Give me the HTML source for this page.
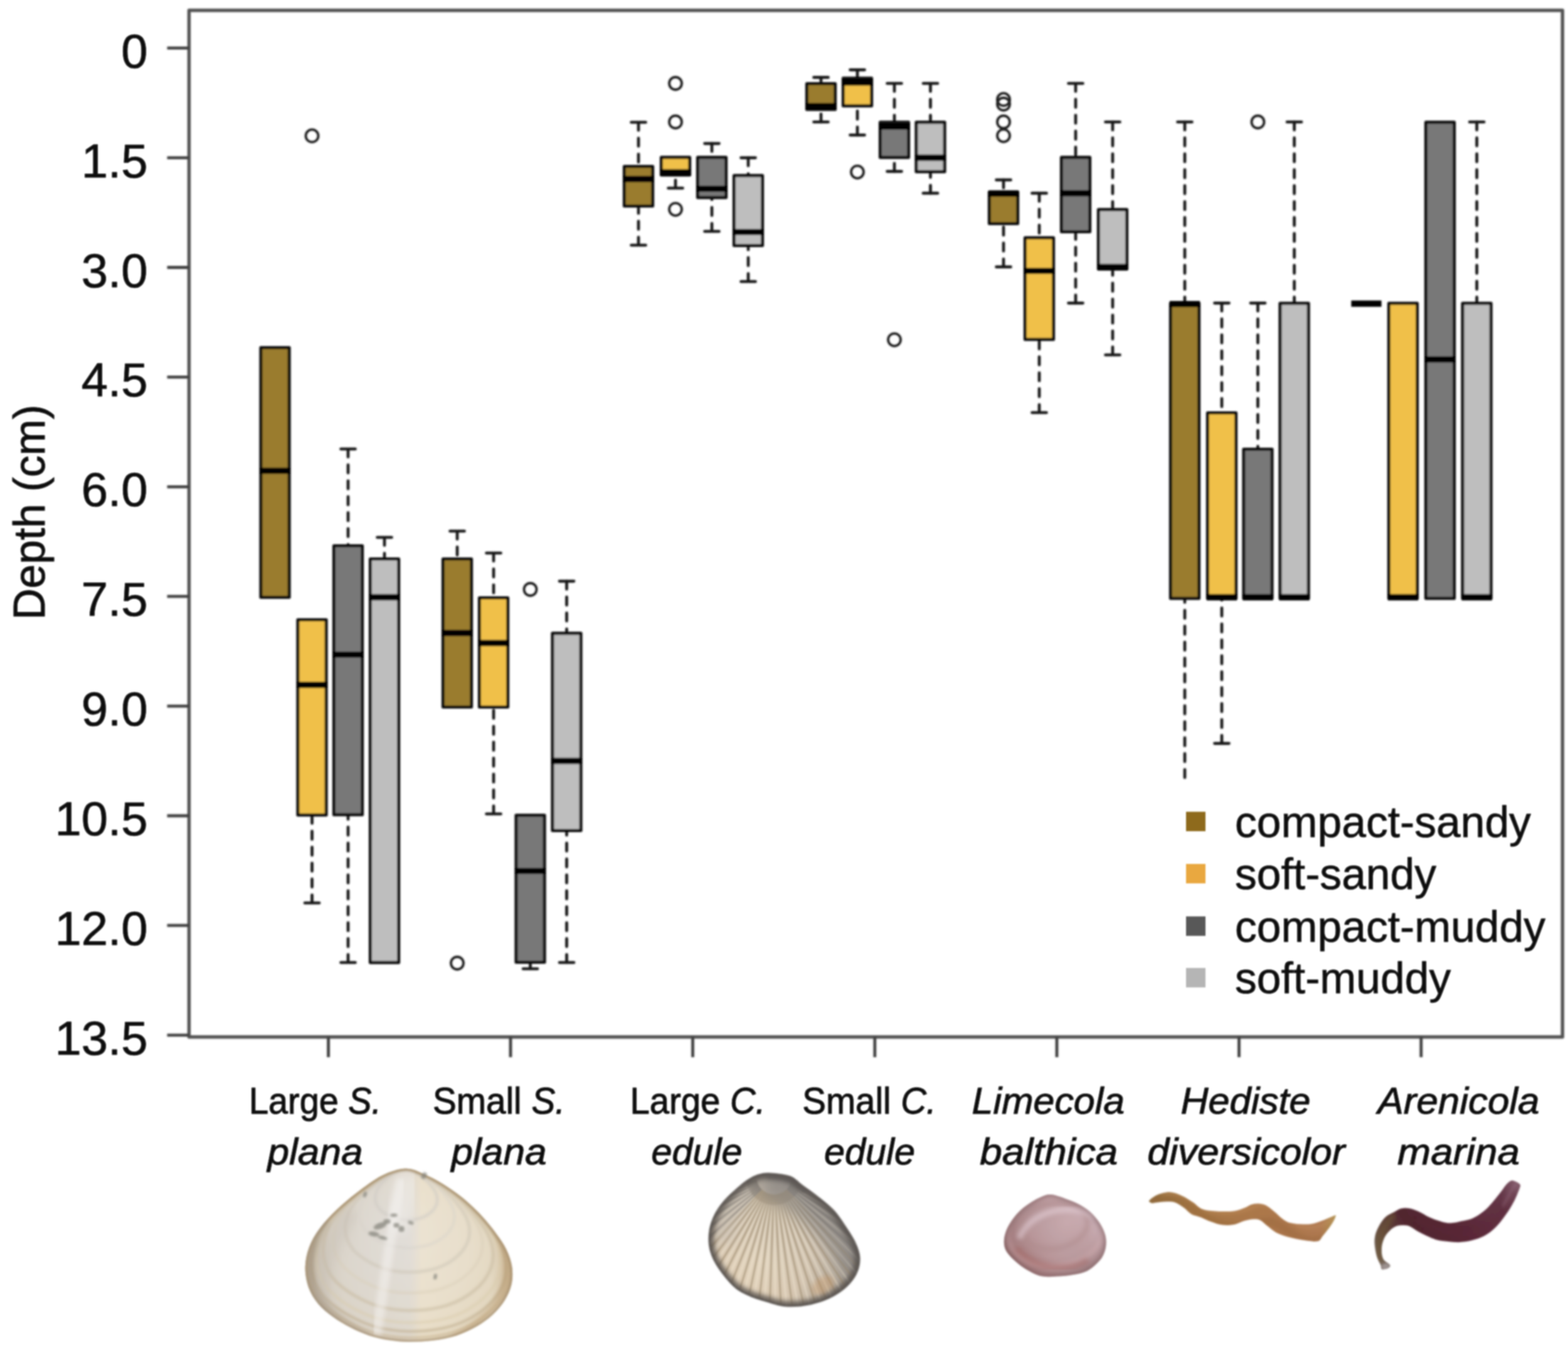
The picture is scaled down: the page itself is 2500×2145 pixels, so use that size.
<!DOCTYPE html>
<html lang="en">
<head>
<meta charset="utf-8">
<title>Burrowing depth by sediment type</title>
<style>
html,body{margin:0;padding:0;background:#fff;}
body{width:2500px;height:2145px;overflow:hidden;}
svg{display:block;}
text{font-family:"Liberation Sans",sans-serif;fill:#080808;}
.yt{font-size:76px;text-anchor:end;stroke:#080808;stroke-width:.7px;}
.yl{font-size:69.5px;stroke:#080808;stroke-width:.8px;}
.xl{font-size:59.5px;text-anchor:middle;stroke:#080808;stroke-width:.9px;}
.it{font-style:italic;}
.lg{font-size:69.6px;stroke:#080808;stroke-width:.6px;}
.bx{stroke:#0c0c0c;stroke-width:5;stroke-linejoin:round;}
.med{stroke:#000;stroke-width:10;stroke-linecap:butt;}
.wh{stroke:#141414;stroke-width:4.7;stroke-dasharray:12.7 12.7;stroke-linecap:round;}
.cap{stroke:#141414;stroke-width:4.7;stroke-linecap:round;}
.ol{fill:none;stroke:#1a1a1a;stroke-width:3.8;}
</style>
</head>
<body>
<svg width="2500" height="2145" viewBox="0 0 2500 2145">
<defs><filter id="blur" x="0" y="0" width="100%" height="100%" filterUnits="userSpaceOnUse"><feGaussianBlur stdDeviation="1.5"/></filter>
<filter id="blurT" x="0" y="0" width="2500" height="2145" filterUnits="userSpaceOnUse"><feGaussianBlur stdDeviation="1.1"/></filter></defs>
<rect width="2500" height="2145" fill="#fff"/>
<defs>
<filter id="soft" x="-5%" y="-5%" width="110%" height="110%"><feGaussianBlur stdDeviation="1.6"/></filter>
<filter id="thin" x="-5%" y="-5%" width="110%" height="110%"><feMorphology operator="erode" radius="2.4"/><feGaussianBlur stdDeviation="1.7"/></filter>
<filter id="soft3" x="-10%" y="-10%" width="120%" height="120%"><feGaussianBlur stdDeviation="3.5"/></filter>
<filter id="soft8" x="-20%" y="-20%" width="140%" height="140%"><feGaussianBlur stdDeviation="9"/></filter>
<radialGradient id="gPlana" gradientUnits="userSpaceOnUse" cx="650" cy="2010" r="185" fx="640" fy="1960">
 <stop offset="0" stop-color="#e6e2dc"/><stop offset=".55" stop-color="#e4dccd"/><stop offset=".86" stop-color="#dccfb8"/><stop offset="1" stop-color="#b9a585"/>
</radialGradient>
<linearGradient id="gPlanaLR" gradientUnits="userSpaceOnUse" x1="490" y1="0" x2="815" y2="0">
 <stop offset="0" stop-color="#b9ab98" stop-opacity=".75"/><stop offset=".12" stop-color="#d4cfc8" stop-opacity=".6"/><stop offset=".5" stop-color="#dcd9d6" stop-opacity=".45"/><stop offset=".56" stop-color="#efe4cc" stop-opacity=".55"/><stop offset=".9" stop-color="#eadfc6" stop-opacity=".4"/><stop offset="1" stop-color="#c2a883" stop-opacity=".7"/>
</linearGradient>
<radialGradient id="gCock" gradientUnits="userSpaceOnUse" cx="1225" cy="2000" r="140" fx="1215" fy="2010">
 <stop offset="0" stop-color="#e8d9c1"/><stop offset=".5" stop-color="#dccbb4"/><stop offset=".8" stop-color="#bfb2a1"/><stop offset="1" stop-color="#837b74"/>
</radialGradient>
<linearGradient id="gCockTR" gradientUnits="userSpaceOnUse" x1="1200" y1="2060" x2="1330" y2="1900">
 <stop offset="0" stop-color="#9a9896" stop-opacity="0"/><stop offset=".55" stop-color="#a9a6a3" stop-opacity=".25"/><stop offset="1" stop-color="#77746f" stop-opacity=".85"/>
</linearGradient>
<radialGradient id="gLime" gradientUnits="userSpaceOnUse" cx="1690" cy="1965" r="95" fx="1700" fy="1950">
 <stop offset="0" stop-color="#c6a9ad"/><stop offset=".55" stop-color="#b8999d"/><stop offset=".85" stop-color="#a08286"/><stop offset="1" stop-color="#7b6366"/>
</radialGradient>
<linearGradient id="gLimeD" gradientUnits="userSpaceOnUse" x1="1620" y1="2030" x2="1750" y2="1910">
 <stop offset="0" stop-color="#9c6462" stop-opacity=".6"/><stop offset=".5" stop-color="#c49a9a" stop-opacity="0"/><stop offset="1" stop-color="#e2d3e0" stop-opacity=".8"/>
</linearGradient>
<linearGradient id="gHed" gradientUnits="userSpaceOnUse" x1="1830" y1="0" x2="2135" y2="0">
 <stop offset="0" stop-color="#94703f"/><stop offset=".25" stop-color="#a97a48"/><stop offset=".6" stop-color="#ad784b"/><stop offset=".9" stop-color="#b07a52"/><stop offset="1" stop-color="#b39a52"/>
</linearGradient>
<linearGradient id="gAre" gradientUnits="userSpaceOnUse" x1="2190" y1="2020" x2="2425" y2="1885">
 <stop offset="0" stop-color="#8f847f"/><stop offset=".1" stop-color="#6c5a4c"/><stop offset=".3" stop-color="#51262f"/><stop offset=".6" stop-color="#5b2a39"/><stop offset=".85" stop-color="#643647"/><stop offset="1" stop-color="#86606f"/>
</linearGradient>
</defs>
<g id="shell-plana" filter="url(#soft)">
<clipPath id="cpPlana"><path d="M646 1863.8C657 1863.3 664.6 1867.7 674.7 1871.9C684.7 1876 695.9 1881.9 706.5 1888.4C717.1 1895 728.3 1902.9 738.4 1911.1C748.5 1919.4 758.4 1928.9 767 1938.1C775.7 1947.3 783.7 1957.2 790.4 1966.4C797.1 1975.5 803.1 1983.9 807.4 1992.9C811.7 2001.9 815 2011.3 816.3 2020.5C817.6 2029.7 817.4 2039.3 815.5 2048.1C813.5 2057 809.8 2065.5 804.8 2073.6C799.9 2081.7 793.3 2089.5 785.7 2096.5C778.2 2103.5 769.3 2110.1 759.6 2115.6C749.9 2121.2 739.2 2126.2 727.7 2129.9C716.2 2133.6 703.1 2136.1 690.6 2137.7C678 2139.4 664 2139.9 652.4 2139.9C640.7 2139.8 631.1 2139 620.5 2137.3C609.9 2135.6 598.9 2133.2 588.7 2129.9C578.4 2126.5 568.5 2122.1 558.9 2117.1C549.3 2112.2 539.5 2106.5 530.9 2100.1C522.3 2093.8 513.6 2086.9 507.1 2078.9C500.6 2070.9 495.2 2062.1 491.8 2052.4C488.4 2042.6 486.5 2031.1 486.7 2020.5C486.9 2009.9 489.3 1998.8 493.1 1988.7C496.9 1978.5 502.4 1969.2 509.7 1959.3C516.9 1949.5 526.7 1939.2 536.6 1929.6C546.5 1920.1 557.1 1911.1 569.1 1902C581.1 1892.9 596 1881.4 608.8 1875C621.6 1868.7 635 1864.3 646 1863.8Z"/></clipPath>
<path d="M646 1863.8C657 1863.3 664.6 1867.7 674.7 1871.9C684.7 1876 695.9 1881.9 706.5 1888.4C717.1 1895 728.3 1902.9 738.4 1911.1C748.5 1919.4 758.4 1928.9 767 1938.1C775.7 1947.3 783.7 1957.2 790.4 1966.4C797.1 1975.5 803.1 1983.9 807.4 1992.9C811.7 2001.9 815 2011.3 816.3 2020.5C817.6 2029.7 817.4 2039.3 815.5 2048.1C813.5 2057 809.8 2065.5 804.8 2073.6C799.9 2081.7 793.3 2089.5 785.7 2096.5C778.2 2103.5 769.3 2110.1 759.6 2115.6C749.9 2121.2 739.2 2126.2 727.7 2129.9C716.2 2133.6 703.1 2136.1 690.6 2137.7C678 2139.4 664 2139.9 652.4 2139.9C640.7 2139.8 631.1 2139 620.5 2137.3C609.9 2135.6 598.9 2133.2 588.7 2129.9C578.4 2126.5 568.5 2122.1 558.9 2117.1C549.3 2112.2 539.5 2106.5 530.9 2100.1C522.3 2093.8 513.6 2086.9 507.1 2078.9C500.6 2070.9 495.2 2062.1 491.8 2052.4C488.4 2042.6 486.5 2031.1 486.7 2020.5C486.9 2009.9 489.3 1998.8 493.1 1988.7C496.9 1978.5 502.4 1969.2 509.7 1959.3C516.9 1949.5 526.7 1939.2 536.6 1929.6C546.5 1920.1 557.1 1911.1 569.1 1902C581.1 1892.9 596 1881.4 608.8 1875C621.6 1868.7 635 1864.3 646 1863.8Z" fill="url(#gPlana)"/>
<path d="M646 1863.8C657 1863.3 664.6 1867.7 674.7 1871.9C684.7 1876 695.9 1881.9 706.5 1888.4C717.1 1895 728.3 1902.9 738.4 1911.1C748.5 1919.4 758.4 1928.9 767 1938.1C775.7 1947.3 783.7 1957.2 790.4 1966.4C797.1 1975.5 803.1 1983.9 807.4 1992.9C811.7 2001.9 815 2011.3 816.3 2020.5C817.6 2029.7 817.4 2039.3 815.5 2048.1C813.5 2057 809.8 2065.5 804.8 2073.6C799.9 2081.7 793.3 2089.5 785.7 2096.5C778.2 2103.5 769.3 2110.1 759.6 2115.6C749.9 2121.2 739.2 2126.2 727.7 2129.9C716.2 2133.6 703.1 2136.1 690.6 2137.7C678 2139.4 664 2139.9 652.4 2139.9C640.7 2139.8 631.1 2139 620.5 2137.3C609.9 2135.6 598.9 2133.2 588.7 2129.9C578.4 2126.5 568.5 2122.1 558.9 2117.1C549.3 2112.2 539.5 2106.5 530.9 2100.1C522.3 2093.8 513.6 2086.9 507.1 2078.9C500.6 2070.9 495.2 2062.1 491.8 2052.4C488.4 2042.6 486.5 2031.1 486.7 2020.5C486.9 2009.9 489.3 1998.8 493.1 1988.7C496.9 1978.5 502.4 1969.2 509.7 1959.3C516.9 1949.5 526.7 1939.2 536.6 1929.6C546.5 1920.1 557.1 1911.1 569.1 1902C581.1 1892.9 596 1881.4 608.8 1875C621.6 1868.7 635 1864.3 646 1863.8Z" fill="url(#gPlanaLR)"/>
<g clip-path="url(#cpPlana)" fill="none">
<path d="M646 1862.7C649.3 1862.6 651.6 1863.9 654.6 1865.2C657.6 1866.4 661 1868.2 664.1 1870.1C667.3 1872.1 670.7 1874.5 673.7 1877C676.7 1879.4 679.7 1882.3 682.3 1885C684.9 1887.8 687.3 1890.8 689.3 1893.5C691.3 1896.3 693.1 1898.8 694.4 1901.5C695.7 1904.2 696.7 1907 697.1 1909.8C697.5 1912.5 697.4 1915.4 696.8 1918C696.3 1920.7 695.1 1923.3 693.6 1925.7C692.2 1928.1 690.2 1930.5 687.9 1932.6C685.6 1934.7 683 1936.6 680.1 1938.3C677.2 1940 674 1941.5 670.5 1942.6C667.1 1943.7 663.1 1944.4 659.4 1944.9C655.6 1945.4 651.4 1945.6 647.9 1945.6C644.4 1945.5 641.5 1945.3 638.3 1944.8C635.2 1944.3 631.9 1943.6 628.8 1942.6C625.7 1941.6 622.8 1940.2 619.9 1938.7C617 1937.3 614 1935.6 611.5 1933.7C608.9 1931.7 606.3 1929.7 604.3 1927.3C602.4 1924.9 600.8 1922.2 599.7 1919.3C598.7 1916.4 598.1 1912.9 598.2 1909.8C598.3 1906.6 599 1903.3 600.1 1900.2C601.3 1897.1 602.9 1894.4 605.1 1891.4C607.3 1888.5 610.2 1885.4 613.2 1882.5C616.2 1879.6 619.3 1876.9 622.9 1874.2C626.5 1871.5 631 1868 634.8 1866.1C638.7 1864.2 642.7 1862.9 646 1862.7Z" stroke="#cfcac4" stroke-width="5" opacity="0.55" filter="url(#soft)"/>
<path d="M646 1863C651 1862.7 654.5 1864.8 659.2 1866.7C663.8 1868.6 668.9 1871.3 673.8 1874.3C678.7 1877.3 683.8 1881 688.5 1884.8C693.1 1888.6 697.7 1892.9 701.7 1897.2C705.7 1901.4 709.3 1906 712.4 1910.2C715.5 1914.4 718.2 1918.2 720.2 1922.4C722.2 1926.5 723.7 1930.8 724.3 1935.1C725 1939.3 724.8 1943.7 723.9 1947.8C723.1 1951.8 721.3 1955.8 719.1 1959.5C716.8 1963.2 713.7 1966.8 710.3 1970C706.8 1973.3 702.7 1976.3 698.3 1978.8C693.8 1981.4 688.9 1983.7 683.6 1985.4C678.3 1987.1 672.3 1988.2 666.5 1989C660.7 1989.8 654.3 1990 648.9 1990C643.5 1989.9 639.2 1989.6 634.3 1988.8C629.4 1988 624.3 1986.9 619.6 1985.4C614.9 1983.8 610.4 1981.8 605.9 1979.5C601.5 1977.2 597 1974.6 593 1971.7C589.1 1968.8 585.1 1965.6 582.1 1961.9C579.1 1958.3 576.6 1954.2 575.1 1949.7C573.5 1945.2 572.6 1940 572.7 1935.1C572.8 1930.2 573.9 1925.1 575.7 1920.4C577.4 1915.7 579.9 1911.5 583.3 1906.9C586.6 1902.4 591.1 1897.7 595.7 1893.3C600.2 1888.9 605.1 1884.7 610.6 1880.6C616.2 1876.4 623 1871.1 628.9 1868.2C634.8 1865.2 640.9 1863.2 646 1863Z" stroke="#d6d1ca" stroke-width="4" opacity="0.5" filter="url(#soft)"/>
<path d="M646 1863.2C652.6 1862.9 657.1 1865.6 663.2 1868C669.2 1870.5 675.9 1874 682.3 1878C688.7 1881.9 695.4 1886.6 701.4 1891.6C707.5 1896.6 713.4 1902.3 718.6 1907.8C723.8 1913.3 728.6 1919.3 732.6 1924.7C736.7 1930.2 740.2 1935.2 742.8 1940.7C745.4 1946.1 747.4 1951.7 748.2 1957.2C749 1962.7 748.8 1968.5 747.7 1973.8C746.5 1979.1 744.3 1984.2 741.3 1989.1C738.3 1993.9 734.4 1998.6 729.8 2002.8C725.3 2007 720 2011 714.2 2014.3C708.4 2017.6 701.9 2020.6 695 2022.8C688.1 2025 680.3 2026.6 672.7 2027.6C665.2 2028.6 656.8 2028.9 649.8 2028.8C642.8 2028.8 637.1 2028.3 630.7 2027.3C624.3 2026.3 617.7 2024.9 611.6 2022.8C605.4 2020.8 599.5 2018.2 593.7 2015.2C588 2012.2 582.1 2008.8 576.9 2005C571.7 2001.2 566.6 1997 562.7 1992.3C558.8 1987.5 555.5 1982.2 553.5 1976.3C551.4 1970.5 550.3 1963.6 550.4 1957.2C550.6 1950.9 552 1944.2 554.2 1938.1C556.5 1932 559.8 1926.4 564.2 1920.5C568.5 1914.6 574.4 1908.4 580.4 1902.7C586.3 1897 592.6 1891.6 599.9 1886.1C607.1 1880.7 616 1873.8 623.7 1869.9C631.4 1866.1 639.4 1863.5 646 1863.2Z" stroke="#cbc2b3" stroke-width="5" opacity="0.5" filter="url(#soft)"/>
<path d="M646 1863.4C653.9 1863 659.4 1866.2 666.6 1869.2C673.9 1872.1 681.9 1876.4 689.6 1881.1C697.2 1885.8 705.2 1891.5 712.5 1897.5C719.8 1903.4 726.9 1910.3 733.1 1916.9C739.4 1923.5 745.1 1930.6 750 1937.2C754.8 1943.8 759.1 1949.8 762.2 1956.3C765.3 1962.8 767.6 1969.6 768.6 1976.2C769.6 1982.8 769.4 1989.7 768 1996.1C766.6 2002.5 763.9 2008.6 760.4 2014.4C756.8 2020.2 752 2025.9 746.6 2030.9C741.2 2036 734.7 2040.7 727.8 2044.7C720.8 2048.7 713.1 2052.3 704.9 2055C696.6 2057.6 687.1 2059.4 678.1 2060.6C669.1 2061.8 659 2062.2 650.6 2062.1C642.2 2062.1 635.3 2061.5 627.6 2060.3C620 2059.1 612.1 2057.4 604.7 2055C597.3 2052.5 590.2 2049.3 583.3 2045.8C576.4 2042.2 569.3 2038.1 563.1 2033.5C556.9 2029 550.7 2024 546 2018.3C541.3 2012.5 537.4 2006.1 535 1999.1C532.5 1992.1 531.2 1983.9 531.3 1976.2C531.5 1968.6 533.1 1960.6 535.9 1953.3C538.7 1945.9 542.6 1939.3 547.8 1932.2C553.1 1925.1 560.1 1917.6 567.2 1910.8C574.4 1903.9 582 1897.4 590.6 1890.9C599.3 1884.3 610 1876.1 619.2 1871.5C628.5 1866.9 638.1 1863.8 646 1863.4Z" stroke="#d9ceb8" stroke-width="4" opacity="0.5" filter="url(#soft)"/>
<path d="M646 1863.5C655 1863.1 661.2 1866.8 669.5 1870.1C677.8 1873.5 686.9 1878.3 695.6 1883.7C704.3 1889.1 713.5 1895.6 721.7 1902.3C730 1909.1 738.1 1916.9 745.2 1924.5C752.4 1932 758.9 1940.1 764.4 1947.6C769.9 1955.1 774.8 1962 778.3 1969.4C781.9 1976.8 784.5 1984.5 785.6 1992C786.7 1999.6 786.5 2007.4 784.9 2014.7C783.4 2021.9 780.3 2028.9 776.2 2035.6C772.2 2042.2 766.8 2048.6 760.6 2054.4C754.4 2060.1 747.1 2065.5 739.2 2070C731.2 2074.6 722.5 2078.7 713 2081.7C703.6 2084.7 692.9 2086.8 682.6 2088.2C672.3 2089.5 660.8 2089.9 651.2 2089.9C641.6 2089.8 633.8 2089.2 625.1 2087.8C616.4 2086.4 607.4 2084.5 599 2081.7C590.6 2079 582.5 2075.3 574.6 2071.3C566.7 2067.2 558.7 2062.6 551.6 2057.3C544.5 2052.1 537.4 2046.4 532.1 2039.9C526.8 2033.4 522.4 2026.1 519.6 2018.1C516.8 2010.2 515.2 2000.7 515.4 1992C515.6 1983.3 517.5 1974.3 520.6 1965.9C523.7 1957.5 528.2 1949.9 534.2 1941.9C540.1 1933.8 548.2 1925.3 556.3 1917.5C564.4 1909.7 573.1 1902.3 583 1894.9C592.8 1887.4 605 1878 615.5 1872.7C626 1867.5 637 1864 646 1863.5Z" stroke="#c7b99f" stroke-width="5" opacity="0.55" filter="url(#soft)"/>
<path d="M646 1863.6C655.8 1863.1 662.5 1867.1 671.5 1870.8C680.5 1874.5 690.4 1879.7 699.9 1885.5C709.3 1891.4 719.2 1898.4 728.2 1905.8C737.2 1913.1 746 1921.6 753.7 1929.8C761.4 1938 768.5 1946.8 774.5 1954.9C780.5 1963 785.8 1970.5 789.6 1978.5C793.5 1986.6 796.4 1994.9 797.6 2003.1C798.8 2011.3 798.5 2019.8 796.8 2027.7C795.1 2035.5 791.8 2043.2 787.4 2050.4C783 2057.5 777.1 2064.5 770.4 2070.8C763.6 2077 755.7 2082.8 747.1 2087.8C738.5 2092.7 729 2097.2 718.8 2100.4C708.5 2103.7 696.9 2105.9 685.7 2107.4C674.5 2108.9 662.1 2109.4 651.7 2109.3C641.3 2109.3 632.8 2108.5 623.3 2107.1C613.9 2105.6 604.1 2103.4 595 2100.4C585.8 2097.4 577.1 2093.5 568.5 2089.1C559.9 2084.7 551.2 2079.6 543.6 2074C535.9 2068.3 528.2 2062.2 522.4 2055.1C516.6 2048 511.8 2040.1 508.8 2031.5C505.8 2022.8 504 2012.6 504.2 2003.1C504.4 1993.7 506.5 1983.8 509.9 1974.8C513.3 1965.7 518.2 1957.4 524.7 1948.7C531.1 1939.9 539.8 1930.7 548.7 1922.2C557.5 1913.7 566.9 1905.7 577.6 1897.6C588.3 1889.5 601.5 1879.3 612.9 1873.6C624.3 1868 636.2 1864.1 646 1863.6Z" stroke="#d9cbaa" stroke-width="4" opacity="0.5" filter="url(#soft)"/>
<path d="M646 1863.7C656.3 1863.2 663.5 1867.4 672.9 1871.3C682.4 1875.1 692.9 1880.7 702.9 1886.9C712.9 1893 723.3 1900.4 732.8 1908.2C742.3 1916 751.6 1924.9 759.8 1933.6C767.9 1942.2 775.4 1951.5 781.7 1960.1C788 1968.7 793.6 1976.6 797.7 1985.1C801.8 1993.5 804.8 2002.4 806.1 2011C807.3 2019.7 807.1 2028.6 805.3 2037C803.5 2045.3 800 2053.3 795.3 2060.9C790.6 2068.5 784.4 2075.9 777.3 2082.5C770.3 2089.1 761.9 2095.2 752.8 2100.4C743.7 2105.7 733.7 2110.4 722.8 2113.8C712 2117.3 699.7 2119.6 687.9 2121.2C676.1 2122.8 663 2123.3 652 2123.2C641 2123.1 632 2122.4 622 2120.8C612.1 2119.2 601.7 2117 592.1 2113.8C582.4 2110.7 573.2 2106.5 564.1 2101.8C555.1 2097.2 545.9 2091.9 537.8 2085.9C529.7 2079.9 521.6 2073.4 515.4 2065.9C509.3 2058.4 504.3 2050.1 501.1 2041C497.9 2031.8 496.1 2021 496.3 2011C496.5 2001 498.7 1990.7 502.3 1981.1C505.9 1971.5 511 1962.8 517.8 1953.5C524.7 1944.3 533.9 1934.6 543.2 1925.6C552.5 1916.6 562.4 1908.2 573.7 1899.6C585 1891.1 599 1880.3 611.1 1874.3C623.1 1868.3 635.7 1864.2 646 1863.7Z" stroke="#b9a684" stroke-width="4" opacity="0.55" filter="url(#soft)"/>
<path d="M646 1863.7C656.7 1863.2 664.1 1867.6 673.9 1871.6C683.8 1875.6 694.6 1881.4 705 1887.8C715.4 1894.1 726.2 1901.8 736.1 1909.9C745.9 1918 755.6 1927.2 764 1936.2C772.5 1945.2 780.2 1954.8 786.8 1963.8C793.3 1972.7 799.1 1980.8 803.3 1989.6C807.6 1998.4 810.7 2007.6 812 2016.6C813.4 2025.5 813.1 2034.8 811.2 2043.5C809.4 2052.1 805.7 2060.4 800.9 2068.3C796 2076.2 789.6 2083.8 782.2 2090.7C774.9 2097.5 766.2 2103.9 756.8 2109.3C747.3 2114.7 736.9 2119.6 725.7 2123.2C714.5 2126.8 701.7 2129.2 689.5 2130.8C677.2 2132.5 663.6 2133 652.2 2132.9C640.8 2132.8 631.5 2132 621.1 2130.4C610.8 2128.8 600.1 2126.5 590.1 2123.2C580.1 2119.9 570.5 2115.6 561.1 2110.8C551.7 2105.9 542.2 2100.4 533.8 2094.2C525.3 2088 516.9 2081.3 510.6 2073.5C504.2 2065.7 499 2057.1 495.7 2047.6C492.4 2038.1 490.5 2026.9 490.7 2016.6C490.9 2006.2 493.2 1995.4 496.9 1985.5C500.6 1975.6 506 1966.5 513.1 1956.9C520.1 1947.3 529.7 1937.2 539.4 1927.9C549 1918.6 559.3 1909.9 571 1901C582.8 1892.1 597.3 1880.9 609.8 1874.7C622.2 1868.5 635.3 1864.3 646 1863.7Z" stroke="#c5ae88" stroke-width="3" opacity="0.6" filter="url(#soft)"/>
<path d="M640 1880 C625 1950 615 2030 600 2130" stroke="#f4f2f0" stroke-width="16" opacity=".55" filter="url(#soft3)"/>
<path d="M655 1870 C650 1905 640 1930 625 1960" stroke="#f3f1ee" stroke-width="40" opacity=".45" filter="url(#soft8)"/>
<path d="M560 1930 C520 1990 500 2050 520 2110" stroke="#c6bfb6" stroke-width="26" opacity=".5" filter="url(#soft8)"/>
<path d="M790 1960 C830 2040 800 2090 720 2135" stroke="#b6966a" stroke-width="7" opacity=".55" filter="url(#soft3)"/>
<path d="M646 1863.8C657 1863.3 664.6 1867.7 674.7 1871.9C684.7 1876 695.9 1881.9 706.5 1888.4C717.1 1895 728.3 1902.9 738.4 1911.1C748.5 1919.4 758.4 1928.9 767 1938.1C775.7 1947.3 783.7 1957.2 790.4 1966.4C797.1 1975.5 803.1 1983.9 807.4 1992.9C811.7 2001.9 815 2011.3 816.3 2020.5C817.6 2029.7 817.4 2039.3 815.5 2048.1C813.5 2057 809.8 2065.5 804.8 2073.6C799.9 2081.7 793.3 2089.5 785.7 2096.5C778.2 2103.5 769.3 2110.1 759.6 2115.6C749.9 2121.2 739.2 2126.2 727.7 2129.9C716.2 2133.6 703.1 2136.1 690.6 2137.7C678 2139.4 664 2139.9 652.4 2139.9C640.7 2139.8 631.1 2139 620.5 2137.3C609.9 2135.6 598.9 2133.2 588.7 2129.9C578.4 2126.5 568.5 2122.1 558.9 2117.1C549.3 2112.2 539.5 2106.5 530.9 2100.1C522.3 2093.8 513.6 2086.9 507.1 2078.9C500.6 2070.9 495.2 2062.1 491.8 2052.4C488.4 2042.6 486.5 2031.1 486.7 2020.5C486.9 2009.9 489.3 1998.8 493.1 1988.7C496.9 1978.5 502.4 1969.2 509.7 1959.3C516.9 1949.5 526.7 1939.2 536.6 1929.6C546.5 1920.1 557.1 1911.1 569.1 1902C581.1 1892.9 596 1881.4 608.8 1875C621.6 1868.7 635 1864.3 646 1863.8Z" stroke="#a48d6c" stroke-width="7" opacity=".75" filter="url(#soft)"/>
<path d="M520 1945 C480 2010 485 2070 540 2112" stroke="#9f9485" stroke-width="12" opacity=".5" filter="url(#soft3)"/>
<path d="M500 1980 C480 2040 510 2090 590 2130" stroke="#a99a86" stroke-width="7" opacity=".5" filter="url(#soft3)"/>
</g>
<ellipse cx="606" cy="1955" rx="11" ry="5" transform="rotate(-20 606 1955)" fill="#85847b" opacity=".75" filter="url(#soft)"/>
<ellipse cx="596" cy="1968" rx="9" ry="4" transform="rotate(10 596 1968)" fill="#85847b" opacity=".75" filter="url(#soft)"/>
<ellipse cx="617" cy="1948" rx="6" ry="4" transform="rotate(0 617 1948)" fill="#85847b" opacity=".75" filter="url(#soft)"/>
<ellipse cx="632" cy="1954" rx="5" ry="4" transform="rotate(0 632 1954)" fill="#85847b" opacity=".75" filter="url(#soft)"/>
<ellipse cx="640" cy="1960" rx="5" ry="5" transform="rotate(0 640 1960)" fill="#85847b" opacity=".75" filter="url(#soft)"/>
<ellipse cx="628" cy="1938" rx="6" ry="3" transform="rotate(0 628 1938)" fill="#85847b" opacity=".75" filter="url(#soft)"/>
<ellipse cx="655" cy="1950" rx="5" ry="3" transform="rotate(20 655 1950)" fill="#85847b" opacity=".75" filter="url(#soft)"/>
<ellipse cx="610" cy="1974" rx="8" ry="3" transform="rotate(15 610 1974)" fill="#85847b" opacity=".75" filter="url(#soft)"/>
<ellipse cx="694" cy="2036" rx="3" ry="5" transform="rotate(10 694 2036)" fill="#85847b" opacity=".75" filter="url(#soft)"/>
<ellipse cx="676" cy="1875" rx="4" ry="6" transform="rotate(30 676 1875)" fill="#85847b" opacity=".75" filter="url(#soft)"/>
<ellipse cx="582" cy="1905" rx="3" ry="5" transform="rotate(20 582 1905)" fill="#85847b" opacity=".75" filter="url(#soft)"/>
</g>
<g id="shell-cockle" filter="url(#soft)">
<clipPath id="cpCock"><path d="M1225.8 1871.7C1234.4 1872.2 1251.6 1873.9 1260.1 1876.9C1268.7 1879.9 1270.1 1884.5 1277.3 1889.8C1284.4 1895 1294.4 1901.8 1303 1908.6C1311.6 1915.5 1321.3 1922.9 1328.8 1930.9C1336.2 1938.9 1341.9 1948.1 1347.6 1956.7C1353.3 1965.2 1359.4 1974.4 1363.1 1982.4C1366.8 1990.4 1369.4 1997.3 1369.9 2004.7C1370.5 2012.1 1369.1 2020.1 1366.5 2027C1363.9 2033.9 1359.9 2039.9 1354.5 2045.9C1349.1 2051.9 1341.6 2058.2 1333.9 2063C1326.2 2067.9 1317.6 2071.9 1308.2 2075C1298.7 2078.2 1287.3 2080.8 1277.3 2081.9C1267.3 2083 1257.3 2083 1248.1 2081.9C1239 2080.8 1231 2077.6 1222.4 2075C1213.8 2072.5 1204.7 2069.9 1196.7 2066.5C1188.7 2063 1181.5 2060.2 1174.4 2054.4C1167.2 2048.7 1159.8 2039.9 1153.8 2032.1C1147.8 2024.4 1142 2015.8 1138.3 2008.1C1134.6 2000.4 1132.5 1993.8 1131.5 1985.8C1130.5 1977.8 1130.9 1968.1 1132.3 1960.1C1133.8 1952.1 1136.5 1944.9 1140 1937.8C1143.6 1930.6 1148.6 1923.5 1153.8 1917.2C1158.9 1910.9 1164.6 1905.8 1170.9 1900C1177.2 1894.3 1185.2 1887.2 1191.5 1882.9C1197.8 1878.6 1202.9 1876.2 1208.7 1874.3C1214.4 1872.5 1217.2 1871.3 1225.8 1871.7Z"/></clipPath>
<path d="M1225.8 1871.7C1234.4 1872.2 1251.6 1873.9 1260.1 1876.9C1268.7 1879.9 1270.1 1884.5 1277.3 1889.8C1284.4 1895 1294.4 1901.8 1303 1908.6C1311.6 1915.5 1321.3 1922.9 1328.8 1930.9C1336.2 1938.9 1341.9 1948.1 1347.6 1956.7C1353.3 1965.2 1359.4 1974.4 1363.1 1982.4C1366.8 1990.4 1369.4 1997.3 1369.9 2004.7C1370.5 2012.1 1369.1 2020.1 1366.5 2027C1363.9 2033.9 1359.9 2039.9 1354.5 2045.9C1349.1 2051.9 1341.6 2058.2 1333.9 2063C1326.2 2067.9 1317.6 2071.9 1308.2 2075C1298.7 2078.2 1287.3 2080.8 1277.3 2081.9C1267.3 2083 1257.3 2083 1248.1 2081.9C1239 2080.8 1231 2077.6 1222.4 2075C1213.8 2072.5 1204.7 2069.9 1196.7 2066.5C1188.7 2063 1181.5 2060.2 1174.4 2054.4C1167.2 2048.7 1159.8 2039.9 1153.8 2032.1C1147.8 2024.4 1142 2015.8 1138.3 2008.1C1134.6 2000.4 1132.5 1993.8 1131.5 1985.8C1130.5 1977.8 1130.9 1968.1 1132.3 1960.1C1133.8 1952.1 1136.5 1944.9 1140 1937.8C1143.6 1930.6 1148.6 1923.5 1153.8 1917.2C1158.9 1910.9 1164.6 1905.8 1170.9 1900C1177.2 1894.3 1185.2 1887.2 1191.5 1882.9C1197.8 1878.6 1202.9 1876.2 1208.7 1874.3C1214.4 1872.5 1217.2 1871.3 1225.8 1871.7Z" fill="url(#gCock)" stroke="#6a6560" stroke-width="3"/>
<g clip-path="url(#cpCock)" fill="none">
<path d="M1225.8 1871.7C1234.4 1872.2 1251.6 1873.9 1260.1 1876.9C1268.7 1879.9 1270.1 1884.5 1277.3 1889.8C1284.4 1895 1294.4 1901.8 1303 1908.6C1311.6 1915.5 1321.3 1922.9 1328.8 1930.9C1336.2 1938.9 1341.9 1948.1 1347.6 1956.7C1353.3 1965.2 1359.4 1974.4 1363.1 1982.4C1366.8 1990.4 1369.4 1997.3 1369.9 2004.7C1370.5 2012.1 1369.1 2020.1 1366.5 2027C1363.9 2033.9 1359.9 2039.9 1354.5 2045.9C1349.1 2051.9 1341.6 2058.2 1333.9 2063C1326.2 2067.9 1317.6 2071.9 1308.2 2075C1298.7 2078.2 1287.3 2080.8 1277.3 2081.9C1267.3 2083 1257.3 2083 1248.1 2081.9C1239 2080.8 1231 2077.6 1222.4 2075C1213.8 2072.5 1204.7 2069.9 1196.7 2066.5C1188.7 2063 1181.5 2060.2 1174.4 2054.4C1167.2 2048.7 1159.8 2039.9 1153.8 2032.1C1147.8 2024.4 1142 2015.8 1138.3 2008.1C1134.6 2000.4 1132.5 1993.8 1131.5 1985.8C1130.5 1977.8 1130.9 1968.1 1132.3 1960.1C1133.8 1952.1 1136.5 1944.9 1140 1937.8C1143.6 1930.6 1148.6 1923.5 1153.8 1917.2C1158.9 1910.9 1164.6 1905.8 1170.9 1900C1177.2 1894.3 1185.2 1887.2 1191.5 1882.9C1197.8 1878.6 1202.9 1876.2 1208.7 1874.3C1214.4 1872.5 1217.2 1871.3 1225.8 1871.7Z" fill="url(#gCockTR)" stroke="none"/>
<line x1="1261.8" y1="1882.7" x2="1498.5" y2="1933" stroke="#726d68" stroke-width="3" opacity=".62"/>
<line x1="1278" y1="1888.2" x2="1495.8" y2="1944.5" stroke="#f3ead8" stroke-width="2.4" opacity=".45"/>
<line x1="1261.2" y1="1885.1" x2="1492.6" y2="1955.8" stroke="#726d68" stroke-width="3" opacity=".62"/>
<line x1="1276.8" y1="1891.9" x2="1488.9" y2="1967" stroke="#f3ead8" stroke-width="2.4" opacity=".45"/>
<line x1="1260.4" y1="1887.4" x2="1484.7" y2="1978" stroke="#726d68" stroke-width="3" opacity=".62"/>
<line x1="1275.3" y1="1895.5" x2="1480.1" y2="1988.9" stroke="#f3ead8" stroke-width="2.4" opacity=".45"/>
<line x1="1259.3" y1="1889.6" x2="1475" y2="1999.5" stroke="#726d68" stroke-width="3" opacity=".62"/>
<line x1="1273.6" y1="1899" x2="1469.4" y2="2009.8" stroke="#f3ead8" stroke-width="2.4" opacity=".45"/>
<line x1="1258.1" y1="1891.7" x2="1463.4" y2="2020" stroke="#726d68" stroke-width="3" opacity=".62"/>
<line x1="1271.5" y1="1902.4" x2="1456.9" y2="2029.8" stroke="#f3ead8" stroke-width="2.4" opacity=".45"/>
<line x1="1256.8" y1="1893.7" x2="1450" y2="2039.4" stroke="#726d68" stroke-width="3" opacity=".62"/>
<line x1="1269.1" y1="1905.5" x2="1442.7" y2="2048.6" stroke="#f3ead8" stroke-width="2.4" opacity=".45"/>
<line x1="1255.2" y1="1895.6" x2="1435" y2="2057.5" stroke="#726d68" stroke-width="3" opacity=".62"/>
<line x1="1266.5" y1="1908.4" x2="1427" y2="2066.1" stroke="#f3ead8" stroke-width="2.4" opacity=".45"/>
<line x1="1253.5" y1="1897.4" x2="1418.5" y2="2074.4" stroke="#9d8a6e" stroke-width="3" opacity=".62"/>
<line x1="1263.6" y1="1911.1" x2="1409.8" y2="2082.2" stroke="#f3ead8" stroke-width="2.4" opacity=".45"/>
<line x1="1251.6" y1="1898.9" x2="1400.6" y2="2089.6" stroke="#9d8a6e" stroke-width="3" opacity=".62"/>
<line x1="1260.5" y1="1913.5" x2="1391.2" y2="2096.7" stroke="#f3ead8" stroke-width="2.4" opacity=".45"/>
<line x1="1249.7" y1="1900.4" x2="1381.5" y2="2103.3" stroke="#9d8a6e" stroke-width="3" opacity=".62"/>
<line x1="1257.2" y1="1915.7" x2="1371.4" y2="2109.5" stroke="#f3ead8" stroke-width="2.4" opacity=".45"/>
<line x1="1247.5" y1="1901.6" x2="1361.2" y2="2115.3" stroke="#9d8a6e" stroke-width="3" opacity=".62"/>
<line x1="1253.8" y1="1917.5" x2="1350.6" y2="2120.6" stroke="#f3ead8" stroke-width="2.4" opacity=".45"/>
<line x1="1245.3" y1="1902.7" x2="1339.9" y2="2125.4" stroke="#9d8a6e" stroke-width="3" opacity=".62"/>
<line x1="1250.2" y1="1919" x2="1329" y2="2129.8" stroke="#f3ead8" stroke-width="2.4" opacity=".45"/>
<line x1="1243.1" y1="1903.5" x2="1317.8" y2="2133.7" stroke="#9d8a6e" stroke-width="3" opacity=".62"/>
<line x1="1246.4" y1="1920.2" x2="1306.6" y2="2137.1" stroke="#f3ead8" stroke-width="2.4" opacity=".45"/>
<line x1="1240.7" y1="1904.2" x2="1295.1" y2="2140" stroke="#9d8a6e" stroke-width="3" opacity=".62"/>
<line x1="1242.6" y1="1921.1" x2="1283.6" y2="2142.4" stroke="#f3ead8" stroke-width="2.4" opacity=".45"/>
<line x1="1238.3" y1="1904.6" x2="1272" y2="2144.3" stroke="#9d8a6e" stroke-width="3" opacity=".62"/>
<line x1="1238.7" y1="1921.7" x2="1260.3" y2="2145.6" stroke="#f3ead8" stroke-width="2.4" opacity=".45"/>
<line x1="1235.9" y1="1904.8" x2="1248.5" y2="2146.5" stroke="#9d8a6e" stroke-width="3" opacity=".62"/>
<line x1="1234.8" y1="1921.9" x2="1236.8" y2="2146.9" stroke="#f3ead8" stroke-width="2.4" opacity=".45"/>
<line x1="1233.4" y1="1904.9" x2="1225" y2="2146.7" stroke="#9d8a6e" stroke-width="3" opacity=".62"/>
<line x1="1230.9" y1="1921.7" x2="1213.2" y2="2146.1" stroke="#f3ead8" stroke-width="2.4" opacity=".45"/>
<line x1="1231" y1="1904.7" x2="1201.5" y2="2144.9" stroke="#9d8a6e" stroke-width="3" opacity=".62"/>
<line x1="1227" y1="1921.3" x2="1189.8" y2="2143.2" stroke="#f3ead8" stroke-width="2.4" opacity=".45"/>
<line x1="1228.6" y1="1904.3" x2="1178.3" y2="2141" stroke="#9d8a6e" stroke-width="3" opacity=".62"/>
<line x1="1223.1" y1="1920.5" x2="1166.8" y2="2138.3" stroke="#f3ead8" stroke-width="2.4" opacity=".45"/>
<line x1="1226.2" y1="1903.7" x2="1155.5" y2="2135.1" stroke="#9d8a6e" stroke-width="3" opacity=".62"/>
<line x1="1219.4" y1="1919.3" x2="1144.3" y2="2131.4" stroke="#f3ead8" stroke-width="2.4" opacity=".45"/>
<line x1="1223.9" y1="1902.8" x2="1133.3" y2="2127.2" stroke="#9d8a6e" stroke-width="3" opacity=".62"/>
<line x1="1215.7" y1="1917.8" x2="1122.4" y2="2122.6" stroke="#f3ead8" stroke-width="2.4" opacity=".45"/>
<line x1="1221.7" y1="1901.8" x2="1111.8" y2="2117.5" stroke="#9d8a6e" stroke-width="3" opacity=".62"/>
<line x1="1212.2" y1="1916.1" x2="1101.4" y2="2111.9" stroke="#f3ead8" stroke-width="2.4" opacity=".45"/>
<line x1="1219.6" y1="1900.6" x2="1091.3" y2="2105.9" stroke="#9d8a6e" stroke-width="3" opacity=".62"/>
<line x1="1208.9" y1="1914" x2="1081.5" y2="2099.4" stroke="#f3ead8" stroke-width="2.4" opacity=".45"/>
<line x1="1217.5" y1="1899.2" x2="1071.9" y2="2092.5" stroke="#9d8a6e" stroke-width="3" opacity=".62"/>
<line x1="1205.8" y1="1911.6" x2="1062.7" y2="2085.2" stroke="#f3ead8" stroke-width="2.4" opacity=".45"/>
<line x1="1215.7" y1="1897.7" x2="1053.7" y2="2077.5" stroke="#9d8a6e" stroke-width="3" opacity=".62"/>
<line x1="1202.9" y1="1909" x2="1045.2" y2="2069.5" stroke="#f3ead8" stroke-width="2.4" opacity=".45"/>
<line x1="1213.9" y1="1896" x2="1036.9" y2="2061" stroke="#726d68" stroke-width="3" opacity=".62"/>
<line x1="1200.2" y1="1906.1" x2="1029.1" y2="2052.2" stroke="#f3ead8" stroke-width="2.4" opacity=".45"/>
<line x1="1212.3" y1="1894.1" x2="1021.6" y2="2043.1" stroke="#726d68" stroke-width="3" opacity=".62"/>
<line x1="1197.8" y1="1903" x2="1014.6" y2="2033.7" stroke="#f3ead8" stroke-width="2.4" opacity=".45"/>
<line x1="1210.9" y1="1892.1" x2="1008" y2="2023.9" stroke="#726d68" stroke-width="3" opacity=".62"/>
<line x1="1195.6" y1="1899.7" x2="1001.8" y2="2013.9" stroke="#f3ead8" stroke-width="2.4" opacity=".45"/>
<line x1="1209.7" y1="1890" x2="996" y2="2003.6" stroke="#726d68" stroke-width="3" opacity=".62"/>
<line x1="1193.8" y1="1896.3" x2="990.7" y2="1993.1" stroke="#f3ead8" stroke-width="2.4" opacity=".45"/>
<line x1="1208.6" y1="1887.8" x2="985.9" y2="1982.4" stroke="#726d68" stroke-width="3" opacity=".62"/>
<line x1="1192.3" y1="1892.6" x2="981.5" y2="1971.4" stroke="#f3ead8" stroke-width="2.4" opacity=".45"/>
<line x1="1207.8" y1="1885.5" x2="977.6" y2="1960.3" stroke="#726d68" stroke-width="3" opacity=".62"/>
<line x1="1191" y1="1888.9" x2="974.2" y2="1949" stroke="#f3ead8" stroke-width="2.4" opacity=".45"/>
<line x1="1207.1" y1="1883.2" x2="971.3" y2="1937.6" stroke="#726d68" stroke-width="3" opacity=".62"/>
<line x1="1190.2" y1="1885.1" x2="968.9" y2="1926.1" stroke="#f3ead8" stroke-width="2.4" opacity=".45"/>
<ellipse cx="1312" cy="2050" rx="20" ry="13" transform="rotate(-35 1312 2050)" fill="#c4925e" opacity=".35" filter="url(#soft3)"/>
<path d="M1225 1880 C1290 1900 1350 1960 1368 2020" stroke="#858280" stroke-width="62" opacity=".5" filter="url(#soft8)"/>
<path d="M1190 1895 C1160 1920 1150 1950 1150 1980" stroke="#bdb6ae" stroke-width="40" opacity=".4" filter="url(#soft8)"/>
<path d="M1225.8 1871.7C1234.4 1872.2 1251.6 1873.9 1260.1 1876.9C1268.7 1879.9 1270.1 1884.5 1277.3 1889.8C1284.4 1895 1294.4 1901.8 1303 1908.6C1311.6 1915.5 1321.3 1922.9 1328.8 1930.9C1336.2 1938.9 1341.9 1948.1 1347.6 1956.7C1353.3 1965.2 1359.4 1974.4 1363.1 1982.4C1366.8 1990.4 1369.4 1997.3 1369.9 2004.7C1370.5 2012.1 1369.1 2020.1 1366.5 2027C1363.9 2033.9 1359.9 2039.9 1354.5 2045.9C1349.1 2051.9 1341.6 2058.2 1333.9 2063C1326.2 2067.9 1317.6 2071.9 1308.2 2075C1298.7 2078.2 1287.3 2080.8 1277.3 2081.9C1267.3 2083 1257.3 2083 1248.1 2081.9C1239 2080.8 1231 2077.6 1222.4 2075C1213.8 2072.5 1204.7 2069.9 1196.7 2066.5C1188.7 2063 1181.5 2060.2 1174.4 2054.4C1167.2 2048.7 1159.8 2039.9 1153.8 2032.1C1147.8 2024.4 1142 2015.8 1138.3 2008.1C1134.6 2000.4 1132.5 1993.8 1131.5 1985.8C1130.5 1977.8 1130.9 1968.1 1132.3 1960.1C1133.8 1952.1 1136.5 1944.9 1140 1937.8C1143.6 1930.6 1148.6 1923.5 1153.8 1917.2C1158.9 1910.9 1164.6 1905.8 1170.9 1900C1177.2 1894.3 1185.2 1887.2 1191.5 1882.9C1197.8 1878.6 1202.9 1876.2 1208.7 1874.3C1214.4 1872.5 1217.2 1871.3 1225.8 1871.7Z" stroke="#55504c" stroke-width="15" opacity=".85" filter="url(#soft3)"/>
<path d="M1222 1874 C1252 1872 1272 1884 1286 1900" stroke="#5d5956" stroke-width="12" opacity=".75" filter="url(#soft3)"/>
</g></g>
<g id="shell-limecola" filter="url(#soft)">
<clipPath id="cpLime"><path d="M1675.4 1905.1C1681.8 1905.6 1690.7 1908.9 1698 1911.4C1705.4 1913.9 1712.7 1916.6 1719.4 1920.2C1726.1 1923.7 1732.5 1927.7 1738.2 1932.7C1743.8 1937.8 1749.3 1944.2 1753.2 1950.3C1757.2 1956.4 1760.4 1963.1 1762 1969.1C1763.7 1975.2 1763.9 1981.1 1763.3 1986.7C1762.7 1992.3 1760.8 1998.2 1758.3 2003C1755.8 2007.8 1752.4 2011.6 1748.2 2015.6C1744 2019.5 1739.4 2023.9 1733.2 2026.9C1726.9 2029.8 1718.5 2031.7 1710.6 2033.1C1702.6 2034.6 1693.4 2035.2 1685.5 2035.6C1677.5 2036.1 1669.6 2036.7 1662.9 2035.6C1656.2 2034.6 1650.8 2031.9 1645.3 2029.4C1639.9 2026.9 1635.3 2024.1 1630.3 2020.6C1625.3 2017 1619.6 2012.4 1615.2 2008C1610.8 2003.6 1606.3 1999 1603.9 1994.2C1601.5 1989.4 1600.7 1984.5 1600.8 1979.2C1600.9 1973.8 1602.4 1967.9 1604.5 1962.2C1606.7 1956.6 1610.1 1950.7 1614 1945.3C1617.8 1939.9 1622.6 1934.3 1627.8 1929.6C1632.9 1924.9 1639.4 1920.5 1644.7 1917.1C1650 1913.6 1654.6 1910.9 1659.8 1908.9C1664.9 1906.9 1669.1 1904.7 1675.4 1905.1Z"/></clipPath>
<path d="M1675.4 1905.1C1681.8 1905.6 1690.7 1908.9 1698 1911.4C1705.4 1913.9 1712.7 1916.6 1719.4 1920.2C1726.1 1923.7 1732.5 1927.7 1738.2 1932.7C1743.8 1937.8 1749.3 1944.2 1753.2 1950.3C1757.2 1956.4 1760.4 1963.1 1762 1969.1C1763.7 1975.2 1763.9 1981.1 1763.3 1986.7C1762.7 1992.3 1760.8 1998.2 1758.3 2003C1755.8 2007.8 1752.4 2011.6 1748.2 2015.6C1744 2019.5 1739.4 2023.9 1733.2 2026.9C1726.9 2029.8 1718.5 2031.7 1710.6 2033.1C1702.6 2034.6 1693.4 2035.2 1685.5 2035.6C1677.5 2036.1 1669.6 2036.7 1662.9 2035.6C1656.2 2034.6 1650.8 2031.9 1645.3 2029.4C1639.9 2026.9 1635.3 2024.1 1630.3 2020.6C1625.3 2017 1619.6 2012.4 1615.2 2008C1610.8 2003.6 1606.3 1999 1603.9 1994.2C1601.5 1989.4 1600.7 1984.5 1600.8 1979.2C1600.9 1973.8 1602.4 1967.9 1604.5 1962.2C1606.7 1956.6 1610.1 1950.7 1614 1945.3C1617.8 1939.9 1622.6 1934.3 1627.8 1929.6C1632.9 1924.9 1639.4 1920.5 1644.7 1917.1C1650 1913.6 1654.6 1910.9 1659.8 1908.9C1664.9 1906.9 1669.1 1904.7 1675.4 1905.1Z" fill="url(#gLime)"/>
<g clip-path="url(#cpLime)" fill="none">
<path d="M1675.4 1905.1C1681.8 1905.6 1690.7 1908.9 1698 1911.4C1705.4 1913.9 1712.7 1916.6 1719.4 1920.2C1726.1 1923.7 1732.5 1927.7 1738.2 1932.7C1743.8 1937.8 1749.3 1944.2 1753.2 1950.3C1757.2 1956.4 1760.4 1963.1 1762 1969.1C1763.7 1975.2 1763.9 1981.1 1763.3 1986.7C1762.7 1992.3 1760.8 1998.2 1758.3 2003C1755.8 2007.8 1752.4 2011.6 1748.2 2015.6C1744 2019.5 1739.4 2023.9 1733.2 2026.9C1726.9 2029.8 1718.5 2031.7 1710.6 2033.1C1702.6 2034.6 1693.4 2035.2 1685.5 2035.6C1677.5 2036.1 1669.6 2036.7 1662.9 2035.6C1656.2 2034.6 1650.8 2031.9 1645.3 2029.4C1639.9 2026.9 1635.3 2024.1 1630.3 2020.6C1625.3 2017 1619.6 2012.4 1615.2 2008C1610.8 2003.6 1606.3 1999 1603.9 1994.2C1601.5 1989.4 1600.7 1984.5 1600.8 1979.2C1600.9 1973.8 1602.4 1967.9 1604.5 1962.2C1606.7 1956.6 1610.1 1950.7 1614 1945.3C1617.8 1939.9 1622.6 1934.3 1627.8 1929.6C1632.9 1924.9 1639.4 1920.5 1644.7 1917.1C1650 1913.6 1654.6 1910.9 1659.8 1908.9C1664.9 1906.9 1669.1 1904.7 1675.4 1905.1Z" fill="url(#gLimeD)" stroke="none"/>
<ellipse cx="1680" cy="1955" rx="54" ry="36" transform="rotate(-8 1680 1955)" stroke="#ae8b8c" stroke-width="6" opacity=".7" filter="url(#soft3)"/>
<ellipse cx="1683" cy="1963" rx="78" ry="56" transform="rotate(-8 1683 1963)" stroke="#d4b0b4" stroke-width="6" opacity=".6" filter="url(#soft3)"/>
<path d="M1620 1990 C1650 2025 1700 2030 1735 2010" stroke="#a36664" stroke-width="10" opacity=".5" filter="url(#soft3)"/>
<path d="M1625 1975 C1640 1935 1700 1915 1745 1940" stroke="#e6d2da" stroke-width="9" opacity=".6" filter="url(#soft3)"/>
<path d="M1675.4 1905.1C1681.8 1905.6 1690.7 1908.9 1698 1911.4C1705.4 1913.9 1712.7 1916.6 1719.4 1920.2C1726.1 1923.7 1732.5 1927.7 1738.2 1932.7C1743.8 1937.8 1749.3 1944.2 1753.2 1950.3C1757.2 1956.4 1760.4 1963.1 1762 1969.1C1763.7 1975.2 1763.9 1981.1 1763.3 1986.7C1762.7 1992.3 1760.8 1998.2 1758.3 2003C1755.8 2007.8 1752.4 2011.6 1748.2 2015.6C1744 2019.5 1739.4 2023.9 1733.2 2026.9C1726.9 2029.8 1718.5 2031.7 1710.6 2033.1C1702.6 2034.6 1693.4 2035.2 1685.5 2035.6C1677.5 2036.1 1669.6 2036.7 1662.9 2035.6C1656.2 2034.6 1650.8 2031.9 1645.3 2029.4C1639.9 2026.9 1635.3 2024.1 1630.3 2020.6C1625.3 2017 1619.6 2012.4 1615.2 2008C1610.8 2003.6 1606.3 1999 1603.9 1994.2C1601.5 1989.4 1600.7 1984.5 1600.8 1979.2C1600.9 1973.8 1602.4 1967.9 1604.5 1962.2C1606.7 1956.6 1610.1 1950.7 1614 1945.3C1617.8 1939.9 1622.6 1934.3 1627.8 1929.6C1632.9 1924.9 1639.4 1920.5 1644.7 1917.1C1650 1913.6 1654.6 1910.9 1659.8 1908.9C1664.9 1906.9 1669.1 1904.7 1675.4 1905.1Z" stroke="#7c5a5c" stroke-width="8" opacity=".6" filter="url(#soft3)"/>
</g></g>
<g id="worm-hediste" filter="url(#thin)">
<clipPath id="cpHed"><path d="M1829.5 1913.9C1831 1911 1837.4 1905.9 1843.4 1903.4C1849.5 1901 1858.8 1898.8 1866 1899.1C1873.3 1899.4 1880.5 1902.4 1886.9 1905.2C1893.2 1907.9 1899 1912.1 1904.2 1915.6C1909.5 1919.1 1912.4 1923.7 1918.1 1926C1923.9 1928.3 1931.2 1928.9 1939 1929.5C1946.8 1930.1 1957.8 1930.4 1965.1 1929.5C1972.3 1928.6 1977.2 1926.2 1982.4 1924.3C1987.6 1922.4 1990.5 1919.1 1996.3 1918.2C2002.1 1917.3 2011.1 1917.2 2017.2 1919.1C2023.3 1921 2027.9 1925.7 2032.8 1929.5C2037.7 1933.3 2042.1 1938.5 2046.7 1941.7C2051.3 1944.8 2054 1947.2 2060.6 1948.6C2067.3 1950.1 2078.6 1951.2 2086.7 1950.3C2094.8 1949.5 2102 1945.9 2109.3 1943.4C2116.5 1940.9 2126.5 1935.6 2130.1 1935.6C2133.7 1935.6 2132.1 1939.8 2131 1943.4C2129.8 1947 2126.5 1952.4 2123.2 1957.3C2119.8 1962.2 2114.5 1968.9 2111 1972.9C2107.5 1977 2107.8 1980.5 2102.3 1981.6C2096.8 1982.8 2086.4 1981 2078 1979.9C2069.6 1978.7 2059.5 1976.7 2051.9 1974.7C2044.4 1972.6 2038.3 1970.6 2032.8 1967.7C2027.3 1964.8 2023.6 1960.8 2018.9 1957.3C2014.3 1953.8 2010.2 1948.3 2005 1946.9C1999.8 1945.4 1993.4 1947.3 1987.6 1948.6C1981.9 1949.9 1976.9 1953.5 1970.3 1954.7C1963.6 1955.8 1954.6 1956.3 1947.7 1955.6C1940.7 1954.8 1934.4 1952.4 1928.6 1950.3C1922.8 1948.3 1918.1 1945.4 1912.9 1943.4C1907.7 1941.4 1901.9 1940.8 1897.3 1938.2C1892.7 1935.6 1889.8 1930.9 1885.1 1927.8C1880.5 1924.6 1875 1920.5 1869.5 1919.1C1864 1917.6 1857.9 1918.8 1852.1 1919.1C1846.3 1919.4 1838.5 1921.7 1834.7 1920.8C1831 1919.9 1828.1 1916.8 1829.5 1913.9Z"/></clipPath>
<path d="M1829.5 1913.9C1831 1911 1837.4 1905.9 1843.4 1903.4C1849.5 1901 1858.8 1898.8 1866 1899.1C1873.3 1899.4 1880.5 1902.4 1886.9 1905.2C1893.2 1907.9 1899 1912.1 1904.2 1915.6C1909.5 1919.1 1912.4 1923.7 1918.1 1926C1923.9 1928.3 1931.2 1928.9 1939 1929.5C1946.8 1930.1 1957.8 1930.4 1965.1 1929.5C1972.3 1928.6 1977.2 1926.2 1982.4 1924.3C1987.6 1922.4 1990.5 1919.1 1996.3 1918.2C2002.1 1917.3 2011.1 1917.2 2017.2 1919.1C2023.3 1921 2027.9 1925.7 2032.8 1929.5C2037.7 1933.3 2042.1 1938.5 2046.7 1941.7C2051.3 1944.8 2054 1947.2 2060.6 1948.6C2067.3 1950.1 2078.6 1951.2 2086.7 1950.3C2094.8 1949.5 2102 1945.9 2109.3 1943.4C2116.5 1940.9 2126.5 1935.6 2130.1 1935.6C2133.7 1935.6 2132.1 1939.8 2131 1943.4C2129.8 1947 2126.5 1952.4 2123.2 1957.3C2119.8 1962.2 2114.5 1968.9 2111 1972.9C2107.5 1977 2107.8 1980.5 2102.3 1981.6C2096.8 1982.8 2086.4 1981 2078 1979.9C2069.6 1978.7 2059.5 1976.7 2051.9 1974.7C2044.4 1972.6 2038.3 1970.6 2032.8 1967.7C2027.3 1964.8 2023.6 1960.8 2018.9 1957.3C2014.3 1953.8 2010.2 1948.3 2005 1946.9C1999.8 1945.4 1993.4 1947.3 1987.6 1948.6C1981.9 1949.9 1976.9 1953.5 1970.3 1954.7C1963.6 1955.8 1954.6 1956.3 1947.7 1955.6C1940.7 1954.8 1934.4 1952.4 1928.6 1950.3C1922.8 1948.3 1918.1 1945.4 1912.9 1943.4C1907.7 1941.4 1901.9 1940.8 1897.3 1938.2C1892.7 1935.6 1889.8 1930.9 1885.1 1927.8C1880.5 1924.6 1875 1920.5 1869.5 1919.1C1864 1917.6 1857.9 1918.8 1852.1 1919.1C1846.3 1919.4 1838.5 1921.7 1834.7 1920.8C1831 1919.9 1828.1 1916.8 1829.5 1913.9Z" fill="url(#gHed)"/>
<g clip-path="url(#cpHed)" fill="none">
<path d="M1835 1916 C1870 1905 1895 1920 1915 1938 C1950 1960 1990 1958 2010 1950 C2035 1942 2050 1965 2075 1975 C2100 1985 2120 1972 2130 1960" stroke="#8d5f34" stroke-width="6" opacity=".45" filter="url(#soft3)"/>
<path d="M1850 1904 C1880 1900 1900 1915 1925 1930 C1955 1938 1985 1932 2005 1922 C2030 1915 2045 1940 2070 1955 C2095 1962 2110 1955 2125 1942" stroke="#c99564" stroke-width="6" opacity=".5" filter="url(#soft3)"/>
</g></g>
<g id="worm-arenicola" filter="url(#thin)">
<clipPath id="cpAre"><path d="M2409 1880.4C2412.4 1879.9 2417.7 1881.6 2420.6 1883.3C2423.5 1885 2426.4 1886.4 2426.4 1890.5C2426.4 1894.6 2423 1902.1 2420.6 1907.9C2418.2 1913.7 2415.3 1919.5 2411.9 1925.3C2408.6 1931.1 2404.7 1936.9 2400.3 1942.7C2396 1948.5 2391.2 1955 2385.9 1960C2380.6 1965.1 2374.8 1969.7 2368.5 1973.1C2362.2 1976.4 2355.2 1978.6 2348.2 1980.3C2341.2 1982 2333.7 1983 2326.5 1983.2C2319.3 1983.4 2311.3 1982.5 2304.8 1981.8C2298.3 1981 2292.7 1980.3 2287.4 1978.9C2282.1 1977.4 2277.8 1975.2 2272.9 1973.1C2268.1 1970.9 2263.3 1968.5 2258.5 1965.8C2253.6 1963.2 2248.8 1958.6 2244 1957.1C2239.2 1955.7 2233.8 1955.9 2229.5 1957.1C2225.2 1958.3 2221.3 1961.2 2217.9 1964.4C2214.5 1967.5 2211.4 1971.4 2209.2 1976C2207.1 1980.5 2205.1 1986.8 2204.9 1991.9C2204.6 1997 2205.6 2002.5 2207.8 2006.4C2210 2010.2 2216.5 2012.2 2217.9 2015.1C2219.4 2018 2219.1 2021.8 2216.5 2023.7C2213.8 2025.7 2204.9 2027.4 2202 2026.6C2199.1 2025.9 2200.5 2022.8 2199.1 2019.4C2197.6 2016 2194.9 2011.7 2193.3 2006.4C2191.7 2001.1 2190.2 1993.8 2189.7 1987.5C2189.2 1981.3 2189.1 1974.8 2190.4 1968.7C2191.7 1962.7 2194.7 1956.4 2197.6 1951.4C2200.5 1946.3 2203.9 1941.7 2207.8 1938.3C2211.6 1934.9 2216.7 1933.3 2220.8 1931.1C2224.9 1928.9 2227.6 1926.3 2232.4 1925.3C2237.2 1924.3 2244.2 1924.3 2249.8 1925.3C2255.3 1926.3 2260.9 1928.9 2265.7 1931.1C2270.5 1933.3 2274.1 1936.1 2278.7 1938.3C2283.3 1940.5 2287.9 1942.4 2293.2 1944.1C2298.5 1945.8 2304.8 1948.2 2310.6 1948.5C2316.4 1948.7 2322.2 1946.8 2328 1945.6C2333.7 1944.4 2340 1943.4 2345.3 1941.2C2350.6 1939 2355.5 1935.7 2359.8 1932.5C2364.1 1929.4 2367.8 1926 2371.4 1922.4C2375 1918.8 2378.1 1914.9 2381.5 1910.8C2384.9 1906.7 2388.5 1901.9 2391.7 1897.8C2394.8 1893.7 2397.5 1889.1 2400.3 1886.2C2403.2 1883.3 2405.7 1880.9 2409 1880.4Z"/></clipPath>
<path d="M2409 1880.4C2412.4 1879.9 2417.7 1881.6 2420.6 1883.3C2423.5 1885 2426.4 1886.4 2426.4 1890.5C2426.4 1894.6 2423 1902.1 2420.6 1907.9C2418.2 1913.7 2415.3 1919.5 2411.9 1925.3C2408.6 1931.1 2404.7 1936.9 2400.3 1942.7C2396 1948.5 2391.2 1955 2385.9 1960C2380.6 1965.1 2374.8 1969.7 2368.5 1973.1C2362.2 1976.4 2355.2 1978.6 2348.2 1980.3C2341.2 1982 2333.7 1983 2326.5 1983.2C2319.3 1983.4 2311.3 1982.5 2304.8 1981.8C2298.3 1981 2292.7 1980.3 2287.4 1978.9C2282.1 1977.4 2277.8 1975.2 2272.9 1973.1C2268.1 1970.9 2263.3 1968.5 2258.5 1965.8C2253.6 1963.2 2248.8 1958.6 2244 1957.1C2239.2 1955.7 2233.8 1955.9 2229.5 1957.1C2225.2 1958.3 2221.3 1961.2 2217.9 1964.4C2214.5 1967.5 2211.4 1971.4 2209.2 1976C2207.1 1980.5 2205.1 1986.8 2204.9 1991.9C2204.6 1997 2205.6 2002.5 2207.8 2006.4C2210 2010.2 2216.5 2012.2 2217.9 2015.1C2219.4 2018 2219.1 2021.8 2216.5 2023.7C2213.8 2025.7 2204.9 2027.4 2202 2026.6C2199.1 2025.9 2200.5 2022.8 2199.1 2019.4C2197.6 2016 2194.9 2011.7 2193.3 2006.4C2191.7 2001.1 2190.2 1993.8 2189.7 1987.5C2189.2 1981.3 2189.1 1974.8 2190.4 1968.7C2191.7 1962.7 2194.7 1956.4 2197.6 1951.4C2200.5 1946.3 2203.9 1941.7 2207.8 1938.3C2211.6 1934.9 2216.7 1933.3 2220.8 1931.1C2224.9 1928.9 2227.6 1926.3 2232.4 1925.3C2237.2 1924.3 2244.2 1924.3 2249.8 1925.3C2255.3 1926.3 2260.9 1928.9 2265.7 1931.1C2270.5 1933.3 2274.1 1936.1 2278.7 1938.3C2283.3 1940.5 2287.9 1942.4 2293.2 1944.1C2298.5 1945.8 2304.8 1948.2 2310.6 1948.5C2316.4 1948.7 2322.2 1946.8 2328 1945.6C2333.7 1944.4 2340 1943.4 2345.3 1941.2C2350.6 1939 2355.5 1935.7 2359.8 1932.5C2364.1 1929.4 2367.8 1926 2371.4 1922.4C2375 1918.8 2378.1 1914.9 2381.5 1910.8C2384.9 1906.7 2388.5 1901.9 2391.7 1897.8C2394.8 1893.7 2397.5 1889.1 2400.3 1886.2C2403.2 1883.3 2405.7 1880.9 2409 1880.4Z" fill="url(#gAre)"/>
<g clip-path="url(#cpAre)" fill="none">
<path d="M2260 1945 C2290 1960 2320 1975 2350 1968 C2380 1960 2400 1930 2415 1900" stroke="#5f2a3b" stroke-width="9" opacity=".4" filter="url(#soft3)"/>
<path d="M2395 1925 C2405 1910 2412 1895 2418 1885" stroke="#a07a8c" stroke-width="7" opacity=".55" filter="url(#soft3)"/>
<ellipse cx="2210" cy="2020" rx="10" ry="8" fill="#a59c9c" opacity=".8" filter="url(#soft)"/>
<path d="M2225 1935 C2200 1960 2195 1990 2202 2010" stroke="#6b5234" stroke-width="12" opacity=".7" filter="url(#soft3)"/>
</g></g>
<g id="boxes" filter="url(#blur)">
<g><rect class="bx" x="415.9" y="554.5" width="45.2" height="398" fill="#9A7C2E"/><line class="med" x1="414.4" y1="750.8" x2="462.6" y2="750.8"/></g>
<g><line class="wh" x1="497.5" y1="1440" x2="497.5" y2="1300.3"/><line class="cap" x1="486" y1="1440" x2="509" y2="1440"/><rect class="bx" x="474.9" y="988.5" width="45.2" height="311.3" fill="#F0C04A"/><line class="med" x1="473.4" y1="1092.3" x2="521.6" y2="1092.3"/><circle class="ol" cx="497.5" cy="216.7" r="10"/></g>
<g><line class="wh" x1="555" y1="716" x2="555" y2="870"/><line class="cap" x1="543.5" y1="716" x2="566.5" y2="716"/><line class="wh" x1="555" y1="1535" x2="555" y2="1299.8"/><line class="cap" x1="543.5" y1="1535" x2="566.5" y2="1535"/><rect class="bx" x="532.4" y="870.5" width="45.2" height="428.8" fill="#787878"/><line class="med" x1="530.9" y1="1044" x2="579.1" y2="1044"/></g>
<g><line class="wh" x1="613" y1="857" x2="613" y2="891"/><line class="cap" x1="601.5" y1="857" x2="624.5" y2="857"/><rect class="bx" x="590.4" y="891.5" width="45.2" height="643.4" fill="#BEBEBE"/><line class="med" x1="588.9" y1="952.4" x2="637.1" y2="952.4"/></g>
<g><line class="wh" x1="729" y1="847" x2="729" y2="891"/><line class="cap" x1="717.5" y1="847" x2="740.5" y2="847"/><rect class="bx" x="706.4" y="891.5" width="45.2" height="236" fill="#9A7C2E"/><line class="med" x1="704.9" y1="1009.5" x2="753.1" y2="1009.5"/><circle class="ol" cx="729" cy="1536" r="10"/></g>
<g><line class="wh" x1="787" y1="882" x2="787" y2="953"/><line class="cap" x1="775.5" y1="882" x2="798.5" y2="882"/><line class="wh" x1="787" y1="1298" x2="787" y2="1128"/><line class="cap" x1="775.5" y1="1298" x2="798.5" y2="1298"/><rect class="bx" x="764.4" y="953.5" width="45.2" height="174" fill="#F0C04A"/><line class="med" x1="762.9" y1="1025.4" x2="811.1" y2="1025.4"/></g>
<g><line class="wh" x1="845.5" y1="1545" x2="845.5" y2="1535"/><line class="cap" x1="834" y1="1545" x2="857" y2="1545"/><rect class="bx" x="822.9" y="1300.3" width="45.2" height="234.2" fill="#787878"/><line class="med" x1="821.4" y1="1389" x2="869.6" y2="1389"/><circle class="ol" cx="845.5" cy="940" r="10"/></g>
<g><line class="wh" x1="903.5" y1="926.8" x2="903.5" y2="1009.5"/><line class="cap" x1="892" y1="926.8" x2="915" y2="926.8"/><line class="wh" x1="903.5" y1="1535" x2="903.5" y2="1325"/><line class="cap" x1="892" y1="1535" x2="915" y2="1535"/><rect class="bx" x="880.9" y="1010" width="45.2" height="314.5" fill="#BEBEBE"/><line class="med" x1="879.4" y1="1213.6" x2="927.6" y2="1213.6"/></g>
<g><line class="wh" x1="1018" y1="195" x2="1018" y2="265"/><line class="cap" x1="1006.5" y1="195" x2="1029.5" y2="195"/><line class="wh" x1="1018" y1="391" x2="1018" y2="329"/><line class="cap" x1="1006.5" y1="391" x2="1029.5" y2="391"/><rect class="bx" x="995.4" y="265.5" width="45.2" height="63" fill="#9A7C2E"/><line class="med" x1="993.9" y1="285.4" x2="1042.1" y2="285.4"/></g>
<g><line class="wh" x1="1077" y1="300" x2="1077" y2="279.6"/><line class="cap" x1="1065.5" y1="300" x2="1088.5" y2="300"/><rect class="bx" x="1054.4" y="251.1" width="45.2" height="28" fill="#F0C04A"/><line class="med" x1="1052.9" y1="274.8" x2="1101.1" y2="274.8"/><circle class="ol" cx="1077" cy="133" r="10"/><circle class="ol" cx="1077" cy="194.5" r="10"/><circle class="ol" cx="1077" cy="333.8" r="10"/></g>
<g><line class="wh" x1="1135" y1="228.8" x2="1135" y2="250.6"/><line class="cap" x1="1123.5" y1="228.8" x2="1146.5" y2="228.8"/><line class="wh" x1="1135" y1="369" x2="1135" y2="315.4"/><line class="cap" x1="1123.5" y1="369" x2="1146.5" y2="369"/><rect class="bx" x="1112.4" y="251.1" width="45.2" height="63.8" fill="#787878"/><line class="med" x1="1110.9" y1="301" x2="1159.1" y2="301"/></g>
<g><line class="wh" x1="1193" y1="251.6" x2="1193" y2="279.6"/><line class="cap" x1="1181.5" y1="251.6" x2="1204.5" y2="251.6"/><line class="wh" x1="1193" y1="449" x2="1193" y2="391.9"/><line class="cap" x1="1181.5" y1="449" x2="1204.5" y2="449"/><rect class="bx" x="1170.4" y="280.1" width="45.2" height="111.3" fill="#BEBEBE"/><line class="med" x1="1168.9" y1="370" x2="1217.1" y2="370"/></g>
<g><line class="wh" x1="1309" y1="123.4" x2="1309" y2="133"/><line class="cap" x1="1297.5" y1="123.4" x2="1320.5" y2="123.4"/><line class="wh" x1="1309" y1="194.5" x2="1309" y2="175"/><line class="cap" x1="1297.5" y1="194.5" x2="1320.5" y2="194.5"/><rect class="bx" x="1286.4" y="133.5" width="45.2" height="41" fill="#9A7C2E"/><line class="med" x1="1284.9" y1="169.3" x2="1333.1" y2="169.3"/></g>
<g><line class="wh" x1="1367" y1="111.3" x2="1367" y2="124.3"/><line class="cap" x1="1355.5" y1="111.3" x2="1378.5" y2="111.3"/><line class="wh" x1="1367" y1="215.3" x2="1367" y2="169.3"/><line class="cap" x1="1355.5" y1="215.3" x2="1378.5" y2="215.3"/><rect class="bx" x="1344.4" y="124.8" width="45.2" height="44" fill="#F0C04A"/><line class="med" x1="1342.9" y1="131.6" x2="1391.1" y2="131.6"/><circle class="ol" cx="1367" cy="274.3" r="10"/></g>
<g><line class="wh" x1="1426" y1="133" x2="1426" y2="194.5"/><line class="cap" x1="1414.5" y1="133" x2="1437.5" y2="133"/><line class="wh" x1="1426" y1="273.3" x2="1426" y2="251.6"/><line class="cap" x1="1414.5" y1="273.3" x2="1437.5" y2="273.3"/><rect class="bx" x="1403.4" y="195" width="45.2" height="56.1" fill="#787878"/><line class="med" x1="1401.9" y1="201.7" x2="1450.1" y2="201.7"/><circle class="ol" cx="1426" cy="541.8" r="10"/></g>
<g><line class="wh" x1="1483.5" y1="133" x2="1483.5" y2="194.5"/><line class="cap" x1="1472" y1="133" x2="1495" y2="133"/><line class="wh" x1="1483.5" y1="308.2" x2="1483.5" y2="274.3"/><line class="cap" x1="1472" y1="308.2" x2="1495" y2="308.2"/><rect class="bx" x="1460.9" y="195" width="45.2" height="78.8" fill="#BEBEBE"/><line class="med" x1="1459.4" y1="251.6" x2="1507.6" y2="251.6"/></g>
<g><line class="wh" x1="1600" y1="286.9" x2="1600" y2="305.8"/><line class="cap" x1="1588.5" y1="286.9" x2="1611.5" y2="286.9"/><line class="wh" x1="1600" y1="425.7" x2="1600" y2="357"/><line class="cap" x1="1588.5" y1="425.7" x2="1611.5" y2="425.7"/><rect class="bx" x="1577.4" y="306.3" width="45.2" height="50.2" fill="#9A7C2E"/><line class="med" x1="1575.9" y1="308.7" x2="1624.1" y2="308.7"/><circle class="ol" cx="1600" cy="158.7" r="10"/><circle class="ol" cx="1600" cy="166" r="10"/><circle class="ol" cx="1600" cy="194.5" r="10"/><circle class="ol" cx="1600" cy="216.3" r="10"/></g>
<g><line class="wh" x1="1657" y1="308.2" x2="1657" y2="378.8"/><line class="cap" x1="1645.5" y1="308.2" x2="1668.5" y2="308.2"/><line class="wh" x1="1657" y1="658" x2="1657" y2="541.8"/><line class="cap" x1="1645.5" y1="658" x2="1668.5" y2="658"/><rect class="bx" x="1634.4" y="379.3" width="45.2" height="162" fill="#F0C04A"/><line class="med" x1="1632.9" y1="432" x2="1681.1" y2="432"/></g>
<g><line class="wh" x1="1715" y1="133" x2="1715" y2="250.6"/><line class="cap" x1="1703.5" y1="133" x2="1726.5" y2="133"/><line class="wh" x1="1715" y1="483.3" x2="1715" y2="370"/><line class="cap" x1="1703.5" y1="483.3" x2="1726.5" y2="483.3"/><rect class="bx" x="1692.4" y="251.1" width="45.2" height="118.4" fill="#787878"/><line class="med" x1="1690.9" y1="308.2" x2="1739.1" y2="308.2"/></g>
<g><line class="wh" x1="1774" y1="194.5" x2="1774" y2="333.8"/><line class="cap" x1="1762.5" y1="194.5" x2="1785.5" y2="194.5"/><line class="wh" x1="1774" y1="566" x2="1774" y2="429.6"/><line class="cap" x1="1762.5" y1="566" x2="1785.5" y2="566"/><rect class="bx" x="1751.4" y="334.3" width="45.2" height="94.8" fill="#BEBEBE"/><line class="med" x1="1749.9" y1="425.7" x2="1798.1" y2="425.7"/></g>
<g><line class="wh" x1="1889" y1="194.5" x2="1889" y2="483.3"/><line class="cap" x1="1877.5" y1="194.5" x2="1900.5" y2="194.5"/><line class="wh" x1="1889" y1="1240" x2="1889" y2="954.8"/><rect class="bx" x="1866.4" y="483.8" width="45.2" height="470.5" fill="#9A7C2E"/><line class="med" x1="1864.9" y1="485" x2="1913.1" y2="485"/></g>
<g><line class="wh" x1="1948" y1="483.3" x2="1948" y2="658"/><line class="cap" x1="1936.5" y1="483.3" x2="1959.5" y2="483.3"/><line class="wh" x1="1948" y1="1185.6" x2="1948" y2="954.8"/><line class="cap" x1="1936.5" y1="1185.6" x2="1959.5" y2="1185.6"/><rect class="bx" x="1925.4" y="658.5" width="45.2" height="295.8" fill="#F0C04A"/><line class="med" x1="1923.9" y1="952.6" x2="1972.1" y2="952.6"/></g>
<g><line class="wh" x1="2005.5" y1="483.3" x2="2005.5" y2="716"/><line class="cap" x1="1994" y1="483.3" x2="2017" y2="483.3"/><rect class="bx" x="1982.9" y="716.5" width="45.2" height="237.8" fill="#787878"/><line class="med" x1="1981.4" y1="952.6" x2="2029.6" y2="952.6"/><circle class="ol" cx="2005.5" cy="194.5" r="10"/></g>
<g><line class="wh" x1="2063.6" y1="194.5" x2="2063.6" y2="483.3"/><line class="cap" x1="2052.1" y1="194.5" x2="2075.1" y2="194.5"/><rect class="bx" x="2041" y="483.8" width="45.2" height="470.5" fill="#BEBEBE"/><line class="med" x1="2039.5" y1="952.6" x2="2087.7" y2="952.6"/></g>
<g><line class="med" x1="2154.4" y1="484.3" x2="2202.6" y2="484.3"/></g>
<g><rect class="bx" x="2214.4" y="483.8" width="45.2" height="470.5" fill="#F0C04A"/><line class="med" x1="2212.9" y1="952.6" x2="2261.1" y2="952.6"/></g>
<g><rect class="bx" x="2273.4" y="195" width="45.2" height="759.3" fill="#787878"/><line class="med" x1="2271.9" y1="573.3" x2="2320.1" y2="573.3"/></g>
<g><line class="wh" x1="2354.6" y1="194.5" x2="2354.6" y2="483.3"/><line class="cap" x1="2343.1" y1="194.5" x2="2366.1" y2="194.5"/><rect class="bx" x="2332" y="483.8" width="45.2" height="470.5" fill="#BEBEBE"/><line class="med" x1="2330.5" y1="952.6" x2="2378.7" y2="952.6"/></g>
</g>
<g id="axes" filter="url(#blur)">
<rect x="301.4" y="16.5" width="2189.7999999999997" height="1637.3" fill="none" stroke="#525252" stroke-width="5.4" stroke-linejoin="round"/>
<line x1="266.5" y1="76.7" x2="301.4" y2="76.7" stroke="#404040" stroke-width="4.8"/>
<line x1="266.5" y1="251.6" x2="301.4" y2="251.6" stroke="#404040" stroke-width="4.8"/>
<line x1="266.5" y1="426.5" x2="301.4" y2="426.5" stroke="#404040" stroke-width="4.8"/>
<line x1="266.5" y1="601.4" x2="301.4" y2="601.4" stroke="#404040" stroke-width="4.8"/>
<line x1="266.5" y1="776.3" x2="301.4" y2="776.3" stroke="#404040" stroke-width="4.8"/>
<line x1="266.5" y1="951.2" x2="301.4" y2="951.2" stroke="#404040" stroke-width="4.8"/>
<line x1="266.5" y1="1126.1" x2="301.4" y2="1126.1" stroke="#404040" stroke-width="4.8"/>
<line x1="266.5" y1="1301" x2="301.4" y2="1301" stroke="#404040" stroke-width="4.8"/>
<line x1="266.5" y1="1475.9" x2="301.4" y2="1475.9" stroke="#404040" stroke-width="4.8"/>
<line x1="266.5" y1="1650.8" x2="301.4" y2="1650.8" stroke="#404040" stroke-width="4.8"/>
<line x1="523.6" y1="1653.8" x2="523.6" y2="1686" stroke="#404040" stroke-width="4.8"/>
<line x1="814" y1="1653.8" x2="814" y2="1686" stroke="#404040" stroke-width="4.8"/>
<line x1="1104.5" y1="1653.8" x2="1104.5" y2="1686" stroke="#404040" stroke-width="4.8"/>
<line x1="1394.8" y1="1653.8" x2="1394.8" y2="1686" stroke="#404040" stroke-width="4.8"/>
<line x1="1685" y1="1653.8" x2="1685" y2="1686" stroke="#404040" stroke-width="4.8"/>
<line x1="1975.5" y1="1653.8" x2="1975.5" y2="1686" stroke="#404040" stroke-width="4.8"/>
<line x1="2265.8" y1="1653.8" x2="2265.8" y2="1686" stroke="#404040" stroke-width="4.8"/>
</g>
<g id="labels" filter="url(#blurT)">
<text class="yt" x="235.5" y="107.7">0</text>
<text class="yt" x="235.5" y="282.6">1.5</text>
<text class="yt" x="235.5" y="457.5">3.0</text>
<text class="yt" x="235.5" y="632.4">4.5</text>
<text class="yt" x="235.5" y="807.3">6.0</text>
<text class="yt" x="235.5" y="982.2">7.5</text>
<text class="yt" x="235.5" y="1157.1">9.0</text>
<text class="yt" x="235.5" y="1332">10.5</text>
<text class="yt" x="235.5" y="1506.9">12.0</text>
<text class="yt" x="235.5" y="1681.8">13.5</text>
<text class="yl" transform="translate(71,817) rotate(-90)" text-anchor="middle" textLength="343" lengthAdjust="spacingAndGlyphs">Depth (cm)</text>
<text class="xl" x="502.5" y="1776" textLength="211" lengthAdjust="spacingAndGlyphs">Large <tspan class="it">S.</tspan></text>
<text class="xl" x="502.5" y="1857.3" textLength="152" lengthAdjust="spacingAndGlyphs"><tspan class="it">plana</tspan></text>
<text class="xl" x="795.5" y="1776" textLength="211" lengthAdjust="spacingAndGlyphs">Small <tspan class="it">S.</tspan></text>
<text class="xl" x="795.5" y="1857.3" textLength="152" lengthAdjust="spacingAndGlyphs"><tspan class="it">plana</tspan></text>
<text class="xl" x="1112.4" y="1776" textLength="216" lengthAdjust="spacingAndGlyphs">Large <tspan class="it">C.</tspan></text>
<text class="xl" x="1111" y="1857.3" textLength="145" lengthAdjust="spacingAndGlyphs"><tspan class="it">edule</tspan></text>
<text class="xl" x="1386" y="1776" textLength="213.5" lengthAdjust="spacingAndGlyphs">Small <tspan class="it">C.</tspan></text>
<text class="xl" x="1386.5" y="1857.3" textLength="145" lengthAdjust="spacingAndGlyphs"><tspan class="it">edule</tspan></text>
<text class="xl" x="1671.3" y="1776" textLength="243.5" lengthAdjust="spacingAndGlyphs"><tspan class="it">Limecola</tspan></text>
<text class="xl" x="1672.3" y="1857.3" textLength="220" lengthAdjust="spacingAndGlyphs"><tspan class="it">balthica</tspan></text>
<text class="xl" x="1986" y="1776" textLength="207" lengthAdjust="spacingAndGlyphs"><tspan class="it">Hediste</tspan></text>
<text class="xl" x="1987" y="1857.3" textLength="315" lengthAdjust="spacingAndGlyphs"><tspan class="it">diversicolor</tspan></text>
<text class="xl" x="2325.5" y="1776" textLength="258" lengthAdjust="spacingAndGlyphs"><tspan class="it">Arenicola</tspan></text>
<text class="xl" x="2325.5" y="1857.3" textLength="195" lengthAdjust="spacingAndGlyphs"><tspan class="it">marina</tspan></text>
<rect x="1891" y="1294.6" width="31" height="31" fill="#8E6B1E"/>
<text class="lg" x="1969" y="1335.2">compact-sandy</text>
<rect x="1891" y="1377.8" width="31" height="31" fill="#E9A83F"/>
<text class="lg" x="1969" y="1418.4">soft-sandy</text>
<rect x="1891" y="1461.5" width="31" height="31" fill="#595959"/>
<text class="lg" x="1969" y="1502.1">compact-muddy</text>
<rect x="1891" y="1543.7" width="31" height="31" fill="#B5B5B5"/>
<text class="lg" x="1969" y="1584.3">soft-muddy</text>
</g>
</svg>
</body>
</html>
